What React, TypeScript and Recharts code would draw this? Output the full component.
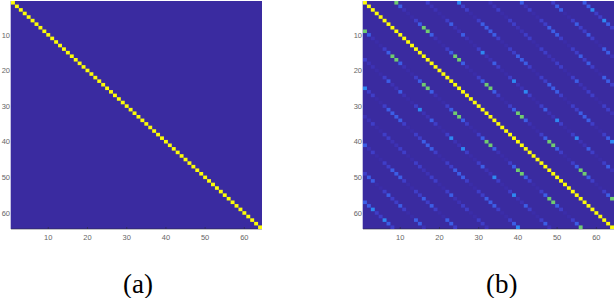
import React from "react";
import { ScatterChart, Scatter, XAxis, YAxis, CartesianGrid } from "recharts";

const tickValues = [10, 20, 30, 40, 50, 60];
const rowIndex = [
  1, 2, 3, 4, 5, 6, 7, 8, 9, 10, 11, 12, 13, 14, 15, 16,
  17, 18, 19, 20, 21, 22, 23, 24, 25, 26, 27, 28, 29, 30, 31, 32,
  33, 34, 35, 36, 37, 38, 39, 40, 41, 42, 43, 44, 45, 46, 47, 48,
  49, 50, 51, 52, 53, 54, 55, 56, 57, 58, 59, 60, 61, 62, 63, 64,
];
// Correlation levels along the off-diagonals of panel (b), one list per offset (0 = faint, 6 = green)
const band8 = [6,4,2,1,1,3,4,6, 6,4,2,1,1,3,4,6, 6,4,2,1,1,3,4,6, 6,4,3,1,1,3,4,6, 6,4,2,1,1,3,4,6, 6,4,3,1,1,3,4,6, 6,4,3,1,1,3,4,6];
const band16 = [3,2,2,1,1,3,4,2, 2,4,2,1,1,3,5,2, 2,4,3,1,1,3,5,2, 2,5,3,1,1,3,4,2, 2,5,3,1,1,3,5,2, 2,4,3,1,1,3,4,2];
const band24 = [5,3,3,1,1,3,4,4, 4,4,3,1,1,3,3,4, 4,4,3,1,1,3,3,4, 4,4,3,1,1,3,3,4, 4,4,3,1,1,3,4,5];
const band32 = [2,2,3,1,1,3,3,2, 2,3,3,1,1,3,3,2, 2,3,3,1,1,3,4,2, 2,3,3,1,1,3,3,2];
const band40 = [4,2,3,1,1,3,3,4, 4,4,3,1,1,3,3,4, 3,4,3,1,1,4,4,3];
const band48 = [3,4,4,1,1,3,4,3, 3,4,3,1,1,4,4,2];
const band56 = [4,4,5,3,3,5,4,3];
const bandOffsets = [8, 16, 24, 32, 40, 48, 56];
const bands = [band8, band16, band24, band32, band40, band48, band56];

const palette = ["#3a2ba0", "#3b2da8", "#3d32b4", "#3f3ec8", "#3c5ee6", "#2e88f2", "#70cc70", "", "", "#fcfc08"];
const BG = "#3a2ba0";
const CELL_W = 251 / 64;
const CELL_H = 228 / 64;

type Cell = { col: number; row: number; level: number };

const diagonal: Cell[] = rowIndex.map((r) => ({ col: r, row: r, level: 9 }));
const offDiagonal: Cell[] = bands.flatMap((band, b) =>
  band.flatMap((level, i) => [
    { col: i + 1 + bandOffsets[b], row: i + 1, level },
    { col: i + 1, row: i + 1 + bandOffsets[b], level },
  ])
);

const CellShape = (props: any) => {
  const { cx, cy, payload } = props;
  return (
    <rect
      x={cx - CELL_W / 2}
      y={cy - CELL_H / 2}
      width={CELL_W}
      height={CELL_H}
      fill={palette[payload.level]}
      stroke="none"
    />
  );
};

const tickStyle = { fontSize: 7.5, fill: "#666666", fontFamily: "Liberation Sans, Arial, sans-serif" };
const blank = () => "";

function Matrix({ cells }: { cells: Cell[] }) {
  return (
    <ScatterChart width={263} height={298} margin={{ top: 1, right: 1, bottom: 53, left: 0 }}>
      <CartesianGrid horizontal={false} vertical={false} fill={BG} xAxisId="x" yAxisId="y" />
      <XAxis
        xAxisId="x" dataKey="col" type="number" domain={[0.5, 64.5]} allowDataOverflow
        ticks={tickValues} height={16} tickSize={-2} tickMargin={8} tick={tickStyle}
        stroke="#2b2b3a" strokeWidth={0.6} interval={0}
      />
      <XAxis
        xAxisId="top" orientation="top" dataKey="col" type="number" domain={[0.5, 64.5]} allowDataOverflow
        ticks={tickValues} height={0} tickSize={-2} tickFormatter={blank}
        stroke="#9a9a9a" strokeWidth={0.6} interval={0}
      />
      <YAxis
        yAxisId="y" dataKey="row" type="number" reversed domain={[0.5, 64.5]} allowDataOverflow
        ticks={tickValues} width={11} tickSize={-2} tickMargin={3} tick={tickStyle}
        stroke="#3a2ba0" strokeWidth={0.6} interval={0}
      />
      <YAxis
        yAxisId="right" orientation="right" dataKey="row" type="number" reversed domain={[0.5, 64.5]} allowDataOverflow
        ticks={tickValues} width={0} tickSize={-2} tickFormatter={blank}
        stroke="#3b3b55" strokeWidth={0.6} interval={0}
      />
      <Scatter data={cells} xAxisId="x" yAxisId="y" isAnimationActive={false} shape={CellShape} />
    </ScatterChart>
  );
}

const captionStyle: React.CSSProperties = {
  position: "absolute",
  top: 269,
  fontFamily: "Liberation Serif, Times New Roman, serif",
  fontSize: 27,
  lineHeight: "30px",
  color: "#000",
};

export default function App() {
  return (
    <div style={{ position: "fixed", left: 0, top: 0, width: 614, height: 298, background: "#fff", overflow: "hidden" }}>
      <div style={{ position: "absolute", left: 0, top: 0 }}>
        <Matrix cells={diagonal} />
      </div>
      <div style={{ position: "absolute", left: 352, top: 0 }}>
        <Matrix cells={[...offDiagonal, ...diagonal]} />
      </div>
      <div style={{ ...captionStyle, left: 123 }}>(a)</div>
      <div style={{ ...captionStyle, left: 486 }}>(b)</div>
    </div>
  );
}
